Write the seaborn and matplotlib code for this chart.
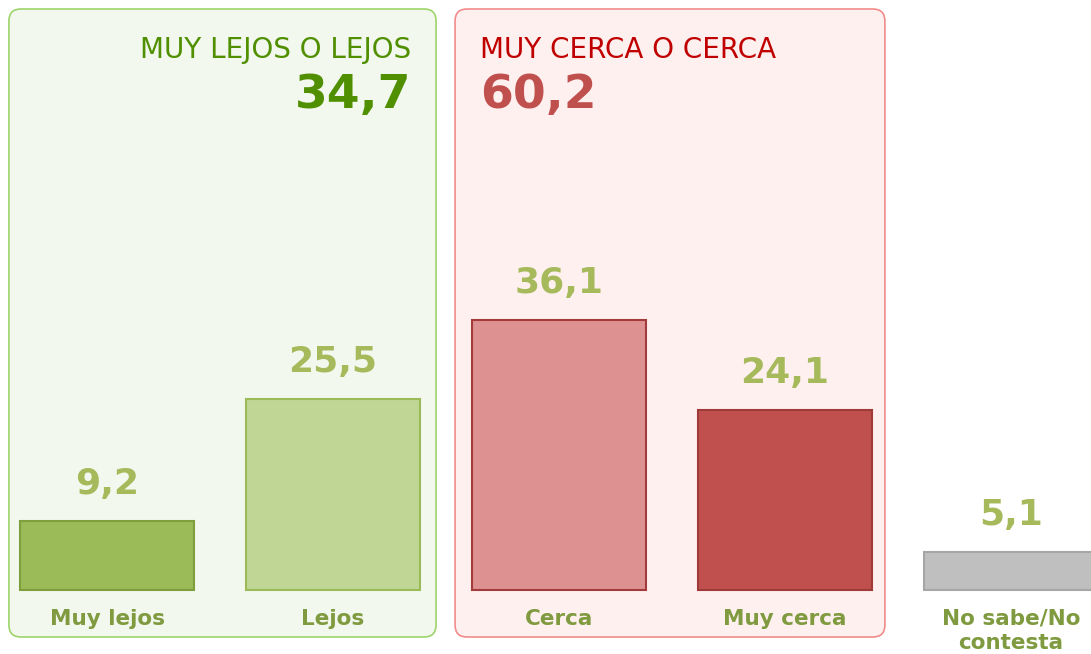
import matplotlib
matplotlib.use("Agg")
import matplotlib.pyplot as plt
from matplotlib.patches import FancyBboxPatch
from matplotlib.transforms import blended_transform_factory
import seaborn as sns
import pandas as pd

categories = ["Muy lejos", "Lejos", "Cerca", "Muy cerca", "No sabe/No\ncontesta"]
values = [9.2, 25.5, 36.1, 24.1, 5.1]
value_labels = ["9,2", "25,5", "36,1", "24,1", "5,1"]
fill_colors = ["#9BBB59", "#C0D694", "#DD9190", "#C0504D", "#BFBFBF"]
edge_colors = ["#7F9F3F", "#9BBB59", "#A33B3B", "#9E3A38", "#A6A6A6"]

group_titles = ["MUY LEJOS O LEJOS", "MUY CERCA O CERCA"]
group_totals = ["34,7", "60,2"]
group_members = [(0, 1), (2, 3)]

sns.set_theme(style="white")
plt.rcParams["font.family"] = ["DejaVu Sans"]

fig = plt.figure(figsize=(10.91, 6.54), dpi=100)
ax = fig.add_axes([0, 0, 1, 1])
ax.set_zorder(2)

df = pd.DataFrame({"cat": categories, "val": values})
sns.barplot(data=df, x="cat", y="val", hue="cat", palette=fill_colors,
            legend=False, width=0.77, ax=ax, saturation=1, zorder=2)
ax.set_xlim(-0.4735, 4.354)
ax.set_ylim(-8.57, 78.98)
ax.axis("off")

# group boxes behind the axes
box_style = [("#F3F8EE", "#9DD46B"), ("#FFF0F0", "#F28B8B")]
box_pads = [(0.434, 0.456), (0.46, 0.442)]
for (a, b), (fc, ec), (pl, pr) in zip(group_members, box_style, box_pads):
    x0 = ax.transData.transform((a - pl, 0))[0]
    x1 = ax.transData.transform((b + pr, 0))[0]
    fx0, fx1 = x0 / 1091, x1 / 1091
    fy0, fy1 = 1 - 637 / 654, 1 - 9 / 654
    p = FancyBboxPatch((fx0, fy0), fx1 - fx0, fy1 - fy0,
                       boxstyle="round,pad=0,rounding_size=%f" % (12 / 1091),
                       mutation_aspect=1091 / 654,
                       transform=fig.transFigure, facecolor=fc, edgecolor=ec,
                       linewidth=1.2, zorder=0)
    fig.patches.append(p)

for p in ax.patches:
    cx = p.get_x() + p.get_width() / 2
    i = int(round(cx))
    p.set_edgecolor(edge_colors[i])
    p.set_linewidth(1.5)

for i, (v, lab) in enumerate(zip(values, value_labels)):
    ax.text(i, v + 2.7, lab, ha="center", va="bottom", fontsize=26,
            fontweight="bold", color="#A6BA5C", zorder=3)
    ax.text(i, -2.5, categories[i], ha="center", va="top", fontsize=15.5,
            fontweight="bold", color="#7F9A3F", linespacing=1.3, zorder=3)

trans = blended_transform_factory(ax.transData, fig.transFigure)
ax.text(1 + 0.345, 1 - 58 / 654, group_titles[0], transform=trans, ha="right",
        va="baseline", fontsize=20, color="#4F8F00")
ax.text(1 + 0.345, 1 - 108 / 654, group_totals[0], transform=trans, ha="right",
        va="baseline", fontsize=34, fontweight="bold", color="#4F8F00")
ax.text(2 - 0.35, 1 - 58 / 654, group_titles[1], transform=trans, ha="left",
        va="baseline", fontsize=20, color="#C00000")
ax.text(2 - 0.35, 1 - 108 / 654, group_totals[1], transform=trans, ha="left",
        va="baseline", fontsize=34, fontweight="bold", color="#C0504D")

fig.savefig("out.png", dpi=100, facecolor="white")
